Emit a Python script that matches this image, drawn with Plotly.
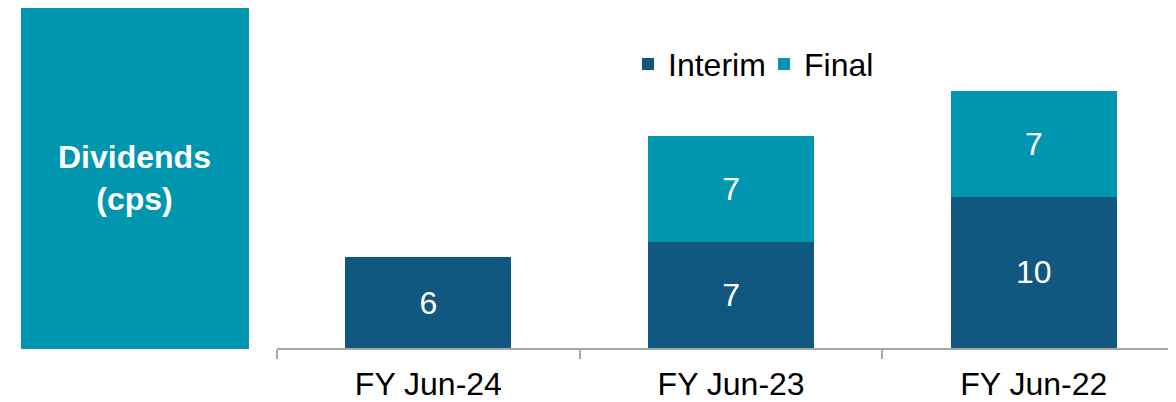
import plotly.graph_objects as go

# ------------------ DATA ------------------
years = ["FY Jun-24", "FY Jun-23", "FY Jun-22"]
interim = [6, 7, 10]
final = [None, 7, 7]
interim_labels = ["6", "7", "10"]
final_labels = ["", "7", "7"]

DARK = "#10587F"
TEAL = "#0096B0"
FONT = "Liberation Sans, Arial, sans-serif"

fig = go.Figure()

# ------------------ BARS ------------------
fig.add_trace(go.Bar(
    x=years, y=interim, name="Interim",
    marker=dict(color=DARK, line=dict(width=0)),
    text=interim_labels, textposition="inside", insidetextanchor="middle",
    textfont=dict(color="white", size=32, family=FONT),
))
fig.add_trace(go.Bar(
    x=years, y=final, name="Final",
    marker=dict(color=TEAL, line=dict(width=0)),
    text=final_labels, textposition="inside", insidetextanchor="middle",
    textfont=dict(color="white", size=32, family=FONT),
))

# ------------------ LEFT TITLE BOX ------------------
fig.add_shape(type="rect", xref="paper", yref="paper",
              x0=-0.2823, x1=-0.0309, y0=-0.003, y1=1.01,
              fillcolor=TEAL, line=dict(width=0), layer="below")
fig.add_annotation(text="<b>Dividends<br>(cps)</b>", xref="paper", yref="paper",
                   x=-0.1566, y=0.50, xanchor="center", yanchor="middle",
                   showarrow=False,
                   font=dict(color="white", size=32, family=FONT))

# ------------------ LAYOUT ------------------
# page has an 8px body margin, so everything is drawn 8px up/left
fig.update_layout(
    width=1176, height=394,
    margin=dict(l=269, r=0, t=0, b=54),
    barmode="stack", bargap=0.452,
    plot_bgcolor="white", paper_bgcolor="white",
    font=dict(family=FONT, size=32, color="black"),
    uniformtext=dict(minsize=32, mode="show"),
    showlegend=True,
    legend=dict(orientation="h", x=0.3870, y=0.835, xanchor="left", yanchor="middle",
                font=dict(size=32), traceorder="normal", bgcolor="rgba(0,0,0,0)",
                entrywidth=91, entrywidthmode="pixels"),
    xaxis=dict(range=[-0.5, 2.496], tickson="boundaries", ticks="outside",
               ticklen=9, tickcolor="#A6A6A6", tickwidth=1.5,
               showline=True, linecolor="#A6A6A6", linewidth=1.5,
               showgrid=False, tickfont=dict(size=32), ticklabelstandoff=7),
    yaxis=dict(range=[0, 22.47], visible=False, showgrid=False),
)

fig.write_html("out.html")
